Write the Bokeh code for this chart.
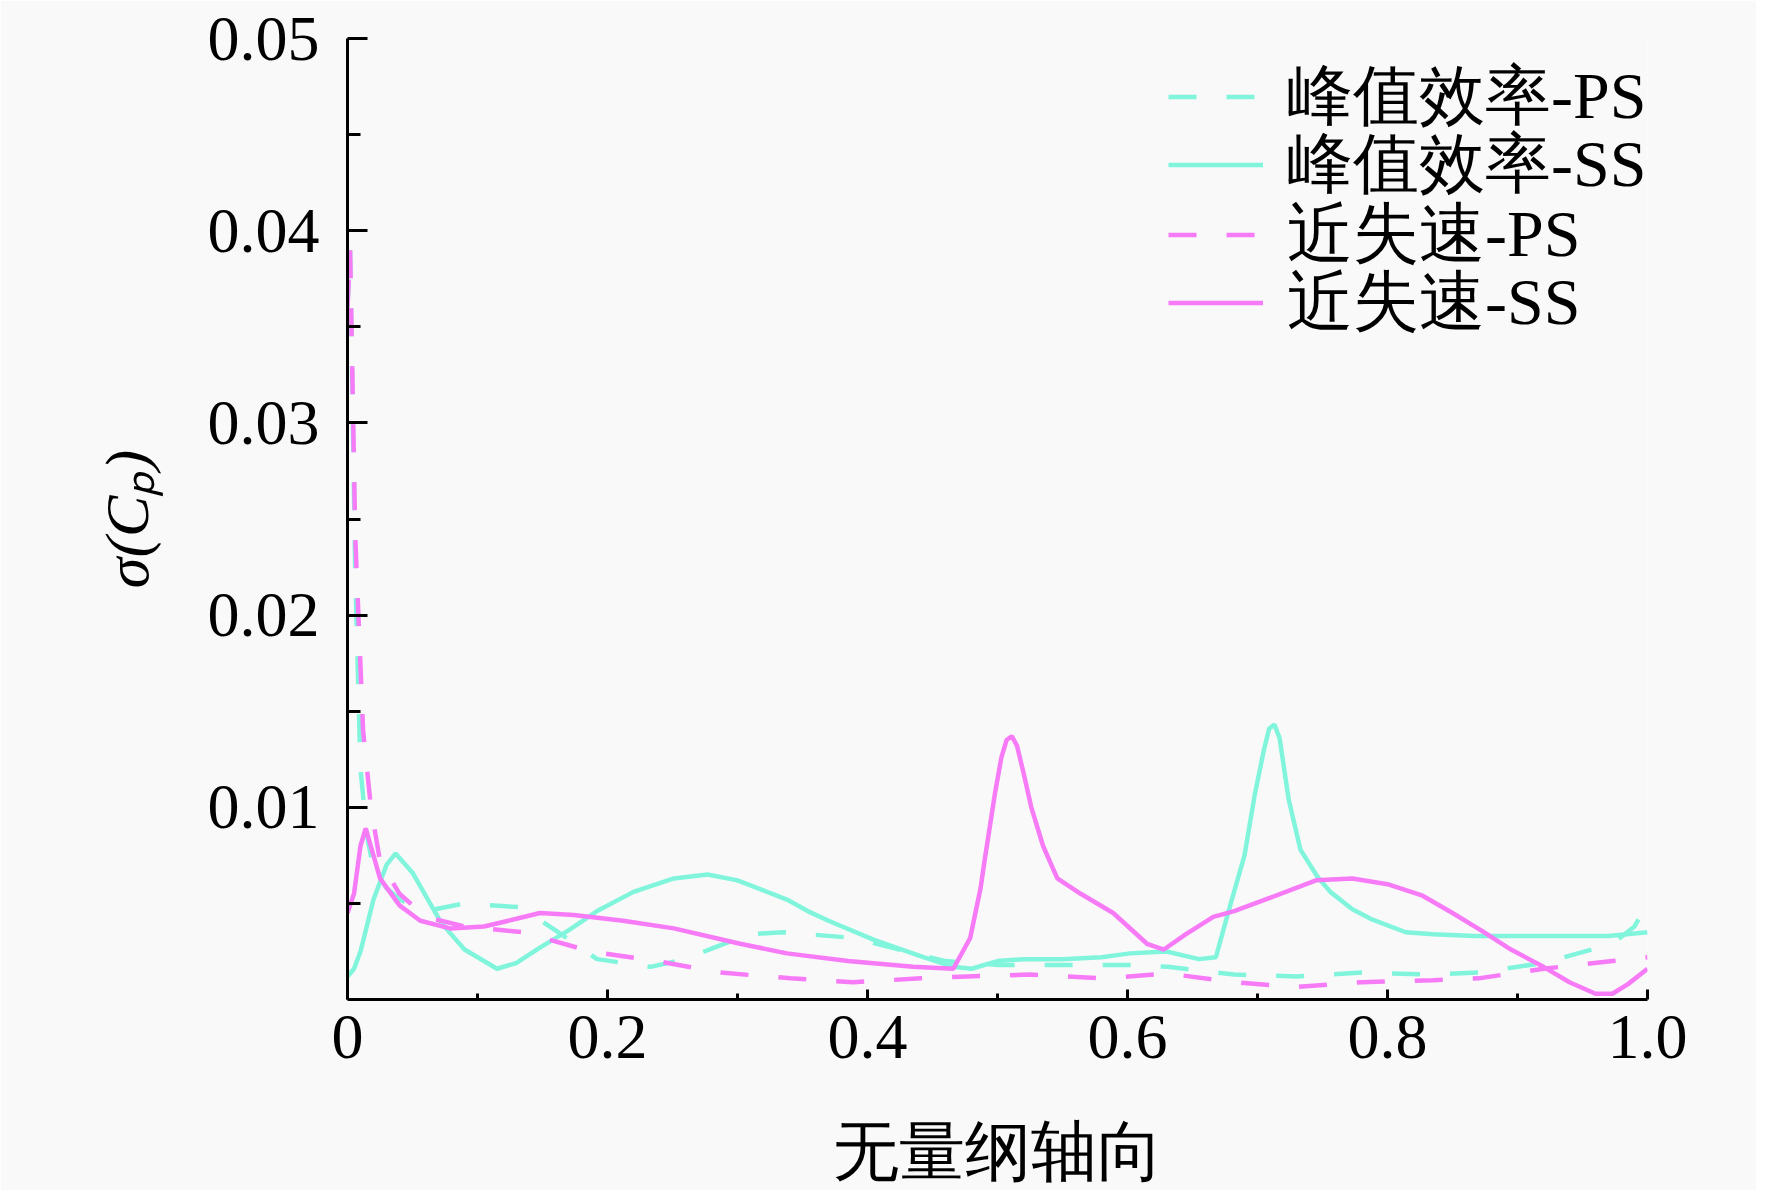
from bokeh.plotting import figure
from bokeh.models import FixedTicker, Range1d, Legend, LegendItem
from bokeh.embed import file_html
from bokeh.resources import INLINE

# 峰值效率 (peak efficiency), pressure side - dashed cyan
eff_ps_x = [0.0, 0.002, 0.006, 0.01, 0.015, 0.02, 0.03, 0.04, 0.06, 0.09, 0.133, 0.16, 0.192, 0.233,
            0.26, 0.282, 0.31, 0.335, 0.39, 0.43, 0.46, 0.50, 0.55, 0.60, 0.631, 0.682, 0.73, 0.78,
            0.835, 0.87, 0.92, 0.973, 0.99, 1.0]
eff_ps_y = [0.036, 0.039, 0.022, 0.012, 0.0085, 0.0068, 0.0058, 0.0052, 0.0046, 0.0050, 0.0048, 0.0036,
            0.0021, 0.0017, 0.0021, 0.0027, 0.0034, 0.0035, 0.0032, 0.0025, 0.0020, 0.0018, 0.0018,
            0.0018, 0.0017, 0.0013, 0.0012, 0.0014, 0.0013, 0.0014, 0.0019, 0.0029, 0.0038, 0.0050]

# 峰值效率, suction side - solid cyan
eff_ss_x = [0.0, 0.005, 0.01, 0.02, 0.03, 0.037, 0.05, 0.072, 0.09, 0.115, 0.13, 0.148, 0.17, 0.192,
            0.22, 0.251, 0.277, 0.30, 0.338, 0.354, 0.37, 0.405, 0.443, 0.466, 0.48, 0.50, 0.52, 0.55,
            0.58, 0.602, 0.63, 0.655, 0.668, 0.679, 0.69, 0.698, 0.705, 0.709, 0.713, 0.717, 0.724,
            0.733, 0.746, 0.756, 0.773, 0.787, 0.814, 0.835, 0.867, 0.90, 0.947, 0.97, 1.0]
eff_ss_y = [0.0012, 0.0016, 0.0025, 0.0052, 0.0070, 0.0076, 0.0066, 0.0040, 0.0026, 0.0016, 0.0019,
            0.0027, 0.0036, 0.0046, 0.0056, 0.0063, 0.0065, 0.0062, 0.0052, 0.0046, 0.0041, 0.0031,
            0.0022, 0.0017, 0.0016, 0.0020, 0.0021, 0.0021, 0.0022, 0.0024, 0.0025, 0.0021, 0.0022,
            0.0049, 0.0075, 0.0107, 0.0130, 0.0141, 0.0143, 0.0136, 0.0104, 0.0078, 0.0064, 0.0056,
            0.0047, 0.0042, 0.0035, 0.0034, 0.0033, 0.0033, 0.0033, 0.0033, 0.0035]

# 近失速 (near stall), pressure side - dashed magenta
stall_ps_x = [0.0, 0.002, 0.006, 0.012, 0.018, 0.025, 0.04, 0.06, 0.09, 0.135, 0.187, 0.238, 0.287,
              0.341, 0.389, 0.441, 0.477, 0.525, 0.582, 0.631, 0.682, 0.73, 0.78, 0.835, 0.87, 0.92,
              0.973, 1.0]
stall_ps_y = [0.036, 0.039, 0.024, 0.014, 0.010, 0.0072, 0.0055, 0.0043, 0.0038, 0.0035, 0.0025, 0.0020,
              0.0014, 0.0011, 0.0009, 0.0011, 0.0012, 0.0013, 0.0011, 0.00135, 0.0009, 0.00065, 0.0009,
              0.0010, 0.0011, 0.0016, 0.0020, 0.0022]

# 近失速, suction side - solid magenta
stall_ss_x = [0.0, 0.005, 0.01, 0.014, 0.02, 0.025, 0.04, 0.056, 0.079, 0.105, 0.13, 0.148, 0.174, 0.212,
              0.251, 0.302, 0.338, 0.385, 0.435, 0.466, 0.479, 0.487, 0.49, 0.498, 0.503, 0.507, 0.511,
              0.515, 0.52, 0.526, 0.535, 0.546, 0.564, 0.589, 0.615, 0.628, 0.645, 0.666, 0.682, 0.71,
              0.745, 0.773, 0.80, 0.827, 0.85, 0.872, 0.895, 0.92, 0.94, 0.96, 0.973, 0.985, 1.0]
stall_ss_y = [0.0045, 0.0055, 0.0080, 0.0089, 0.0075, 0.0063, 0.0049, 0.0041, 0.0037, 0.0038, 0.0042,
              0.0045, 0.0044, 0.0041, 0.0037, 0.0029, 0.0024, 0.0020, 0.0017, 0.0016, 0.0032, 0.0058,
              0.0072, 0.0107, 0.0126, 0.0135, 0.0137, 0.0132, 0.0118, 0.0100, 0.0080, 0.0063, 0.0055,
              0.0045, 0.0029, 0.0026, 0.0034, 0.0043, 0.0046, 0.0053, 0.0062, 0.0063, 0.0060, 0.0054,
              0.0045, 0.0036, 0.0026, 0.0017, 0.0009, 0.0003, 0.0003, 0.0008, 0.0016]

series_labels = ["峰值效率-PS", "峰值效率-SS", "近失速-PS", "近失速-SS"]

x_ticks = [0.0, 0.2, 0.4, 0.6, 0.8, 1.0]
x_minor = [0.1, 0.3, 0.5, 0.7, 0.9]
y_ticks = [0.01, 0.02, 0.03, 0.04, 0.05]
y_minor = [0.005, 0.015, 0.025, 0.035, 0.045]

cyan = "#80f5dc"
pink = "#f77af7"
bg = "#f9f9f9"
serif = "Liberation Serif"

p = figure(frame_width=1300, frame_height=961, x_range=Range1d(0, 1), y_range=Range1d(0, 0.05),
           output_backend="svg", toolbar_location=None,
           min_border_left=347, min_border_right=109, min_border_top=38, min_border_bottom=180,
           outline_line_color=None, background_fill_color=bg, border_fill_color=bg)
p.grid.visible = False

r1 = p.line(eff_ps_x, eff_ps_y, line_color=cyan, line_width=4.5, line_dash="28 30")
r2 = p.line(eff_ss_x, eff_ss_y, line_color=cyan, line_width=4.5)
r3 = p.line(stall_ps_x, stall_ps_y, line_color=pink, line_width=4.5, line_dash="28 30")
r4 = p.line(stall_ss_x, stall_ss_y, line_color=pink, line_width=4.5)

# axes
for ax in (p.xaxis[0], p.yaxis[0]):
    ax.axis_line_width = 3
    ax.axis_line_color = "black"
    ax.major_tick_line_width = 3
    ax.minor_tick_line_width = 3
    ax.major_tick_out = 0
    ax.minor_tick_out = 0
    ax.major_label_text_font = serif
    ax.major_label_text_font_size = "64px"
    ax.major_label_text_color = "black"
    ax.axis_label_text_color = "black"

p.xaxis.ticker = FixedTicker(ticks=x_ticks, minor_ticks=x_minor)
p.xaxis.major_label_overrides = {0: "0", 0.2: "0.2", 0.4: "0.4", 0.6: "0.6", 0.8: "0.8", 1: "1.0"}
p.xaxis.major_tick_in = 10
p.xaxis.minor_tick_in = 6
p.xaxis.major_label_standoff = 16
p.xaxis.axis_label = "无量纲轴向"
p.xaxis.axis_label_text_font = serif
p.xaxis.axis_label_text_font_style = "normal"
p.xaxis.axis_label_text_font_size = "66px"
p.xaxis.axis_label_standoff = 54

p.yaxis.ticker = FixedTicker(ticks=y_ticks, minor_ticks=y_minor)
p.yaxis.major_label_overrides = {0.01: "0.01", 0.02: "0.02", 0.03: "0.03", 0.04: "0.04", 0.05: "0.05"}
p.yaxis.major_tick_in = 20
p.yaxis.minor_tick_in = 13
p.yaxis.major_label_standoff = 28
p.yaxis.axis_label = "σ(Cₚ)"
p.yaxis.axis_label_text_font = serif
p.yaxis.axis_label_text_font_style = "italic"
p.yaxis.axis_label_text_font_size = "62px"
p.yaxis.axis_label_standoff = 44

# legend: one single-item legend per row, so rows can sit closer than bokeh's text height
row_y = [858, 790, 720, 652]
for lab, r, y in zip(series_labels, [r1, r2, r3, r4], row_y):
    lg = Legend(items=[LegendItem(label=lab, renderers=[r])], location=(821, y))
    lg.padding = 0
    lg.margin = 0
    lg.glyph_width = 95
    lg.glyph_height = 69
    lg.label_height = 69
    lg.label_standoff = 24
    lg.label_text_font = serif
    lg.label_text_font_size = "66px"
    lg.label_text_color = "black"
    lg.background_fill_alpha = 0
    lg.border_line_alpha = 0
    p.add_layout(lg)

open("out.html", "w").write(file_html(p, INLINE))
